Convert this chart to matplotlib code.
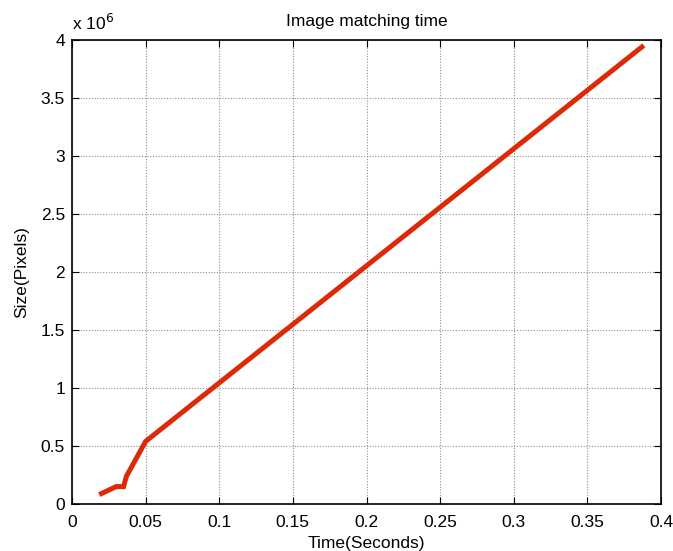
import matplotlib
matplotlib.use("Agg")
import matplotlib.pyplot as plt
from matplotlib.ticker import FuncFormatter, MultipleLocator

plt.rcParams['font.family'] = ['Liberation Sans', 'DejaVu Sans']

time_s = [0.020, 0.030, 0.035, 0.037, 0.050, 0.387]
size_px = [0.09e6, 0.15e6, 0.15e6, 0.24e6, 0.54e6, 3.94e6]

title = "Image matching time"
xlabel = "Time(Seconds)"
ylabel = "Size(Pixels)"

fig = plt.figure(figsize=(6.73, 5.51), dpi=100)
ax = fig.add_axes([72/673, 47/551, 589/673, 464/551])

ax.plot(time_s, size_px, color='#dc2a08', linewidth=3.6, solid_joinstyle='miter')

ax.set_xlim(0, 0.4)
ax.set_ylim(0, 4e6)
ax.xaxis.set_major_locator(MultipleLocator(0.05))
ax.yaxis.set_major_locator(MultipleLocator(0.5e6))
ax.xaxis.set_major_formatter(FuncFormatter(lambda v, p: f"{v:g}"))
ax.yaxis.set_major_formatter(FuncFormatter(lambda v, p: f"{v/1e6:g}"))

ax.grid(True, linestyle=(0, (1, 1.5)), color='#909090', linewidth=0.8)
ax.tick_params(direction='in', length=5, width=0.8, top=True, right=True,
               labelsize=12.5, colors='black')
ax.tick_params(axis='x', pad=8)
ax.tick_params(axis='y', pad=5)
for s in ax.spines.values():
    s.set_linewidth(1.2)

ax.set_title(title, fontsize=12.5, pad=10)
ax.set_xlabel(xlabel, fontsize=12.5, labelpad=4.5)
ax.set_ylabel(ylabel, fontsize=12.5, labelpad=8)
ax.text(0.0, 1.015, r"x 10$^{6}$", transform=ax.transAxes, fontsize=12.5,
        ha='left', va='bottom')

fig.savefig("out.png", dpi=100)
